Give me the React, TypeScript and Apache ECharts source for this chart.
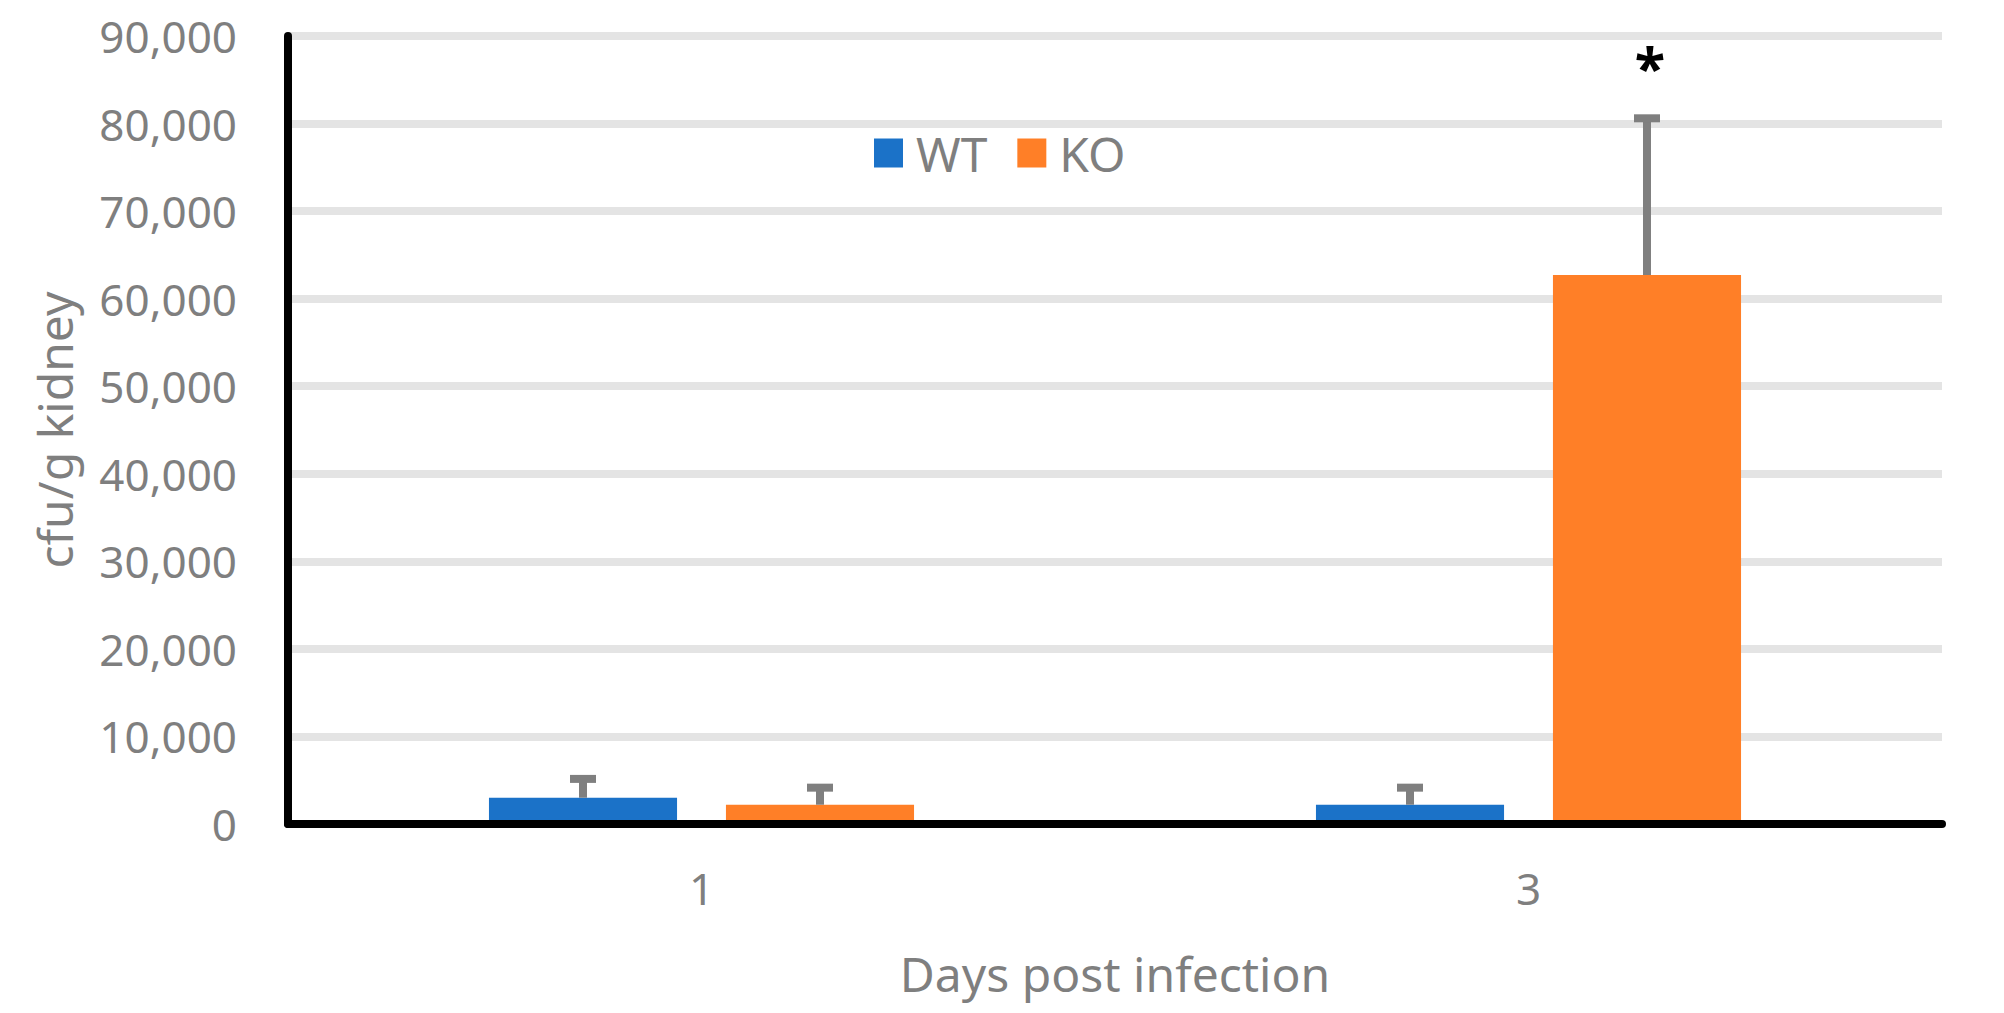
import React, { useEffect, useRef } from "react";
import * as echarts from "echarts";

const categories = ["1", "3"];
const seriesNames = ["WT", "KO"];
const wtMean = [3000, 2200];
const wtSD = [2150, 1950];
const koMean = [2200, 62700];
const koSD = [1950, 17900];
const wtMarks = ["", ""];
const koMarks = ["", "*"];
const yMin = 0;
const yMax = 90000;
const yInterval = 10000;

const colors = ["#1b72c8", "#ff7f27"];
const textColor = "#7f7f7f";
const FONT = "'Noto Sans', sans-serif";
const CAT_GAP = 0.486;
const BAR_GAP = 0.26;

function makeErrorSeries(name: string, means: number[], sds: number[], marks: string[], side: number) {
  return {
    name,
    type: "custom",
    z: 4,
    data: means.map((m, i) => [i, m, sds[i]]),
    encode: { x: 0, y: 1 },
    renderItem: (params: any, api: any) => {
      const cat = api.value(0);
      const mean = api.value(1);
      const sd = api.value(2);
      const band = api.size([1, 0])[0];
      const w = (band * (1 - CAT_GAP)) / (2 + BAR_GAP);
      const off = ((w * (1 + BAR_GAP)) / 2) * side;
      const base = api.coord([cat, mean]);
      const top = api.coord([cat, mean + sd]);
      const x = base[0] + off;
      const st = { stroke: "#7f7f7f", lineWidth: 8 };
      const children: any[] = [
        { type: "line", shape: { x1: x, y1: base[1], x2: x, y2: top[1] }, style: st },
        { type: "line", shape: { x1: x - 13, y1: top[1], x2: x + 13, y2: top[1] }, style: st },
      ];
      const mk = marks[params.dataIndex];
      if (mk) {
        children.push({
          type: "text",
          x: x + 3,
          y: top[1] - 52,
          style: {
            text: mk,
            fill: "#000",
            font: `bold 56px ${FONT}`,
            align: "center",
            verticalAlign: "middle",
          },
        });
      }
      return { type: "group", children };
    },
  };
}

export default function App() {
  const ref = useRef<HTMLDivElement>(null);
  useEffect(() => {
    if (!ref.current) return;
    const chart = echarts.init(ref.current, null, { renderer: "svg" });
    chart.setOption({
      animation: false,
      backgroundColor: "#ffffff",
      grid: { left: 288, right: 62, top: 36, bottom: 189, containLabel: false },
      legend: {
        data: seriesNames,
        icon: "rect",
        left: 874,
        top: 129,
        itemWidth: 29,
        itemHeight: 29,
        itemGap: 30,
        padding: 0,
        textStyle: { fontSize: 48, color: textColor, fontFamily: FONT, padding: [0, 0, 0, 8] },
      },
      xAxis: {
        type: "category",
        data: categories,
        z: 5,
        axisLine: { show: true, lineStyle: { color: "#000", width: 8 } },
        axisTick: { show: false },
        axisLabel: { fontSize: 44, color: textColor, fontFamily: FONT, margin: 42 },
        name: "Days post infection",
        nameLocation: "middle",
        nameGap: 125,
        nameTextStyle: { fontSize: 48, color: textColor, fontFamily: FONT },
      },
      yAxis: {
        type: "value",
        min: yMin,
        max: yMax,
        interval: yInterval,
        axisLine: { show: true, lineStyle: { color: "#000", width: 8 } },
        axisTick: { show: false },
        splitLine: { show: true, lineStyle: { color: "#e4e4e4", width: 8 } },
        axisLabel: {
          fontSize: 44,
          color: textColor,
          fontFamily: FONT,
          margin: 51,
          formatter: (v: number) => v.toLocaleString("en-US"),
        },
        name: "cfu/g kidney",
        nameLocation: "middle",
        nameGap: 210,
        nameTextStyle: { fontSize: 48, color: textColor, fontFamily: FONT },
      },
      series: [
        {
          name: seriesNames[0],
          type: "bar",
          z: 3,
          data: wtMean,
          itemStyle: { color: colors[0] },
          barGap: `${BAR_GAP * 100}%`,
          barCategoryGap: `${CAT_GAP * 100}%`,
        },
        {
          name: seriesNames[1],
          type: "bar",
          z: 3,
          data: koMean,
          itemStyle: { color: colors[1] },
          barGap: `${BAR_GAP * 100}%`,
          barCategoryGap: `${CAT_GAP * 100}%`,
        },
        makeErrorSeries("WT error", wtMean, wtSD, wtMarks, -1),
        makeErrorSeries("KO error", koMean, koSD, koMarks, 1),
      ],
    });
    return () => chart.dispose();
  }, []);
  return (
    <div
      ref={ref}
      style={{ position: "fixed", left: 0, top: 0, width: 2004, height: 1013, background: "#fff" }}
    />
  );
}
